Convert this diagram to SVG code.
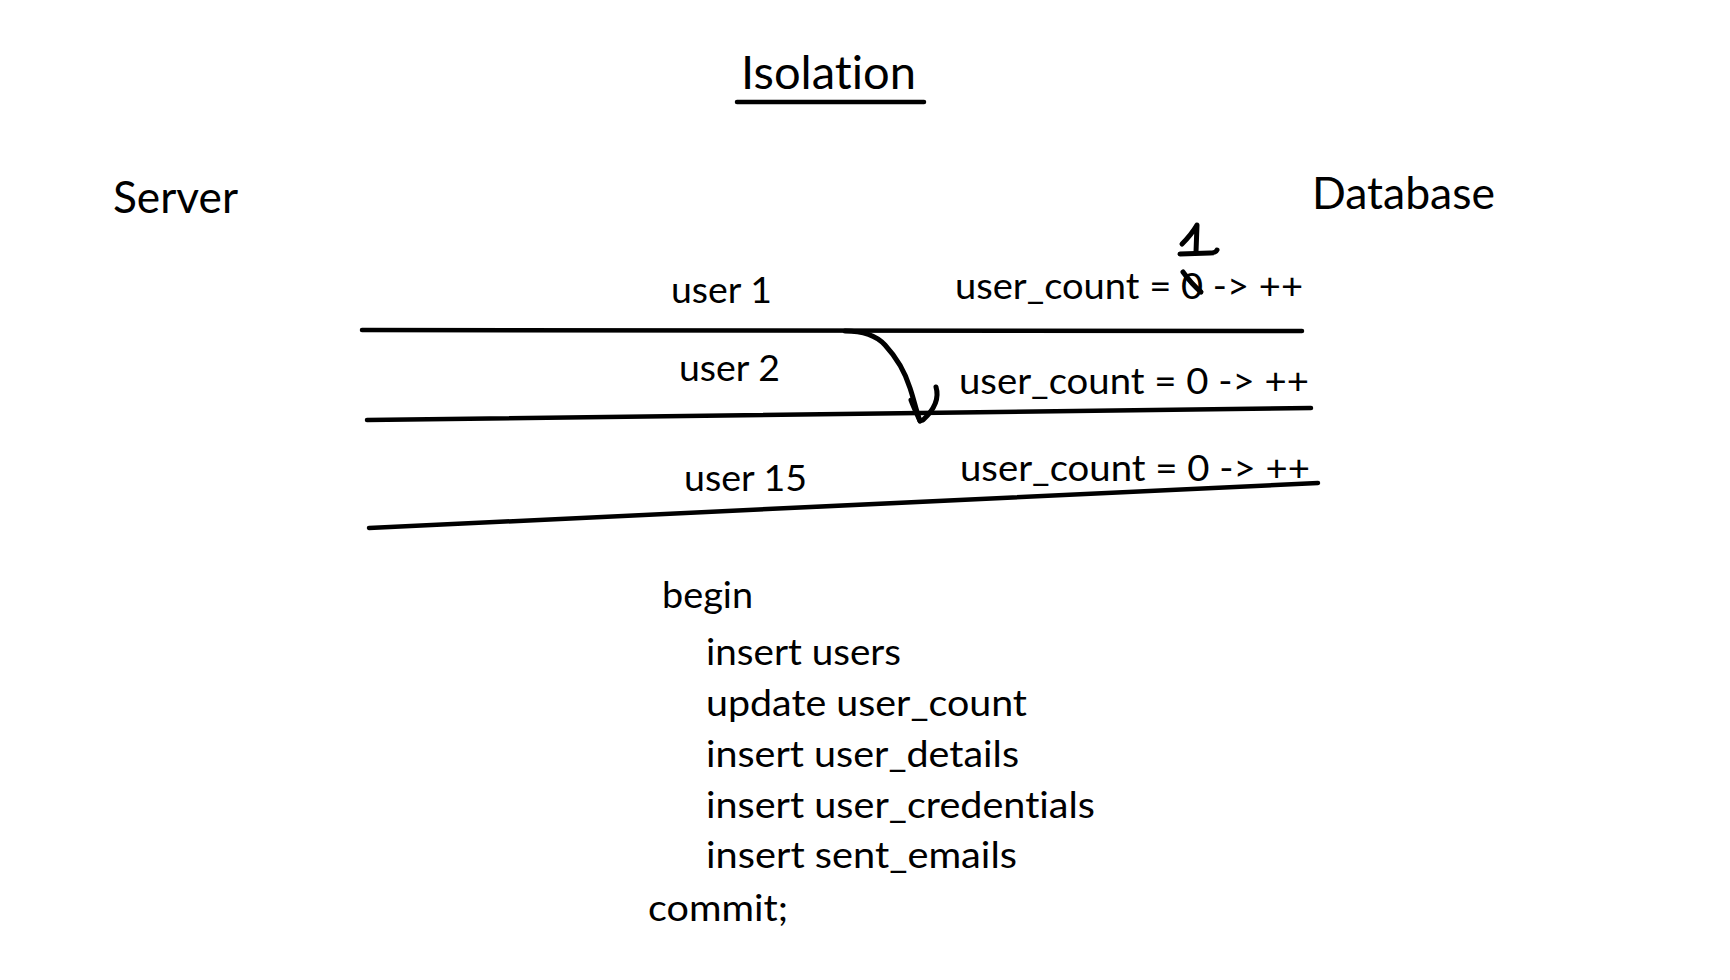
<svg xmlns="http://www.w3.org/2000/svg" width="1730" height="980" viewBox="0 0 1730 980">
<style>
  text { font-family: Lato, "Open Sans", "Liberation Sans", sans-serif; fill: #000; font-variant-ligatures: none; font-feature-settings: "liga" 0, "clig" 0; }
  .title { font-size: 47px; }
  .head { font-size: 44px; }
  .lbl { font-size: 37px; }
  .ln { stroke: #000; stroke-width: 4.5; stroke-linecap: round; fill: none; }
  .pen { stroke: #000; stroke-width: 5; stroke-linecap: round; stroke-linejoin: round; fill: none; }
</style>
<rect width="1730" height="980" fill="#fff"/>

<g id="title">
  <text class="title" x="741" y="89" textLength="175" lengthAdjust="spacingAndGlyphs">Isolation</text>
  <line class="ln" x1="737" y1="102" x2="924" y2="102" stroke-width="5"/>
</g>

<g id="server">
  <text class="head" x="113" y="213" textLength="125" lengthAdjust="spacingAndGlyphs">Server</text>
</g>
<g id="database">
  <text class="head" x="1312" y="209" textLength="183" lengthAdjust="spacingAndGlyphs">Database</text>
</g>

<g id="connectors">
  <line class="ln" x1="362" y1="330" x2="1302" y2="331"/>
  <line class="ln" x1="367" y1="420" x2="1311" y2="408"/>
  <line class="ln" x1="369" y1="528" x2="1318" y2="483"/>
  <path class="pen" d="M845,331 C860,331 875,334 885,345 C897,358 905,372 910,388 C914,400 916,410 920,421"/>
  <path class="pen" d="M911,400 C914,408 917,414 920,421"/>
  <path class="pen" d="M936,387 C939,397 936,408 923,420"/>
</g>

<g id="user1">
  <text class="lbl" x="671" y="303" textLength="101" lengthAdjust="spacingAndGlyphs">user 1</text>
  <text class="lbl" x="955" y="299" textLength="348" lengthAdjust="spacingAndGlyphs">user_count = 0 -&gt; ++</text>
  <path class="pen" d="M1182,244 C1188,238 1193,232 1197,225 L1196,252" stroke-width="5"/>
  <path class="pen" d="M1180,254 L1210,253 C1214,253 1216,252 1217,250" stroke-width="5.5"/>
  <path class="pen" d="M1183,272 C1188,279 1194,286 1201,292" stroke-width="6"/>
</g>

<g id="user2">
  <text class="lbl" x="679" y="381" textLength="101" lengthAdjust="spacingAndGlyphs">user 2</text>
  <text class="lbl" x="959" y="394" textLength="350" lengthAdjust="spacingAndGlyphs">user_count = 0 -&gt; ++</text>
</g>

<g id="user15">
  <text class="lbl" x="684" y="491" textLength="123" lengthAdjust="spacingAndGlyphs">user 15</text>
  <text class="lbl" x="960" y="481" textLength="350" lengthAdjust="spacingAndGlyphs">user_count = 0 -&gt; ++</text>
</g>

<g id="transaction">
  <text class="lbl" x="662" y="608" textLength="91" lengthAdjust="spacingAndGlyphs">begin</text>
  <text class="lbl" x="706" y="665" textLength="195" lengthAdjust="spacingAndGlyphs">insert users</text>
  <text class="lbl" x="706" y="716" textLength="321" lengthAdjust="spacingAndGlyphs">update user_count</text>
  <text class="lbl" x="706" y="767" textLength="313" lengthAdjust="spacingAndGlyphs">insert user_details</text>
  <text class="lbl" x="706" y="818" textLength="389" lengthAdjust="spacingAndGlyphs">insert user_credentials</text>
  <text class="lbl" x="706" y="868" textLength="311" lengthAdjust="spacingAndGlyphs">insert sent_emails</text>
  <text class="lbl" x="648" y="921" textLength="140" lengthAdjust="spacingAndGlyphs">commit;</text>
</g>
</svg>
